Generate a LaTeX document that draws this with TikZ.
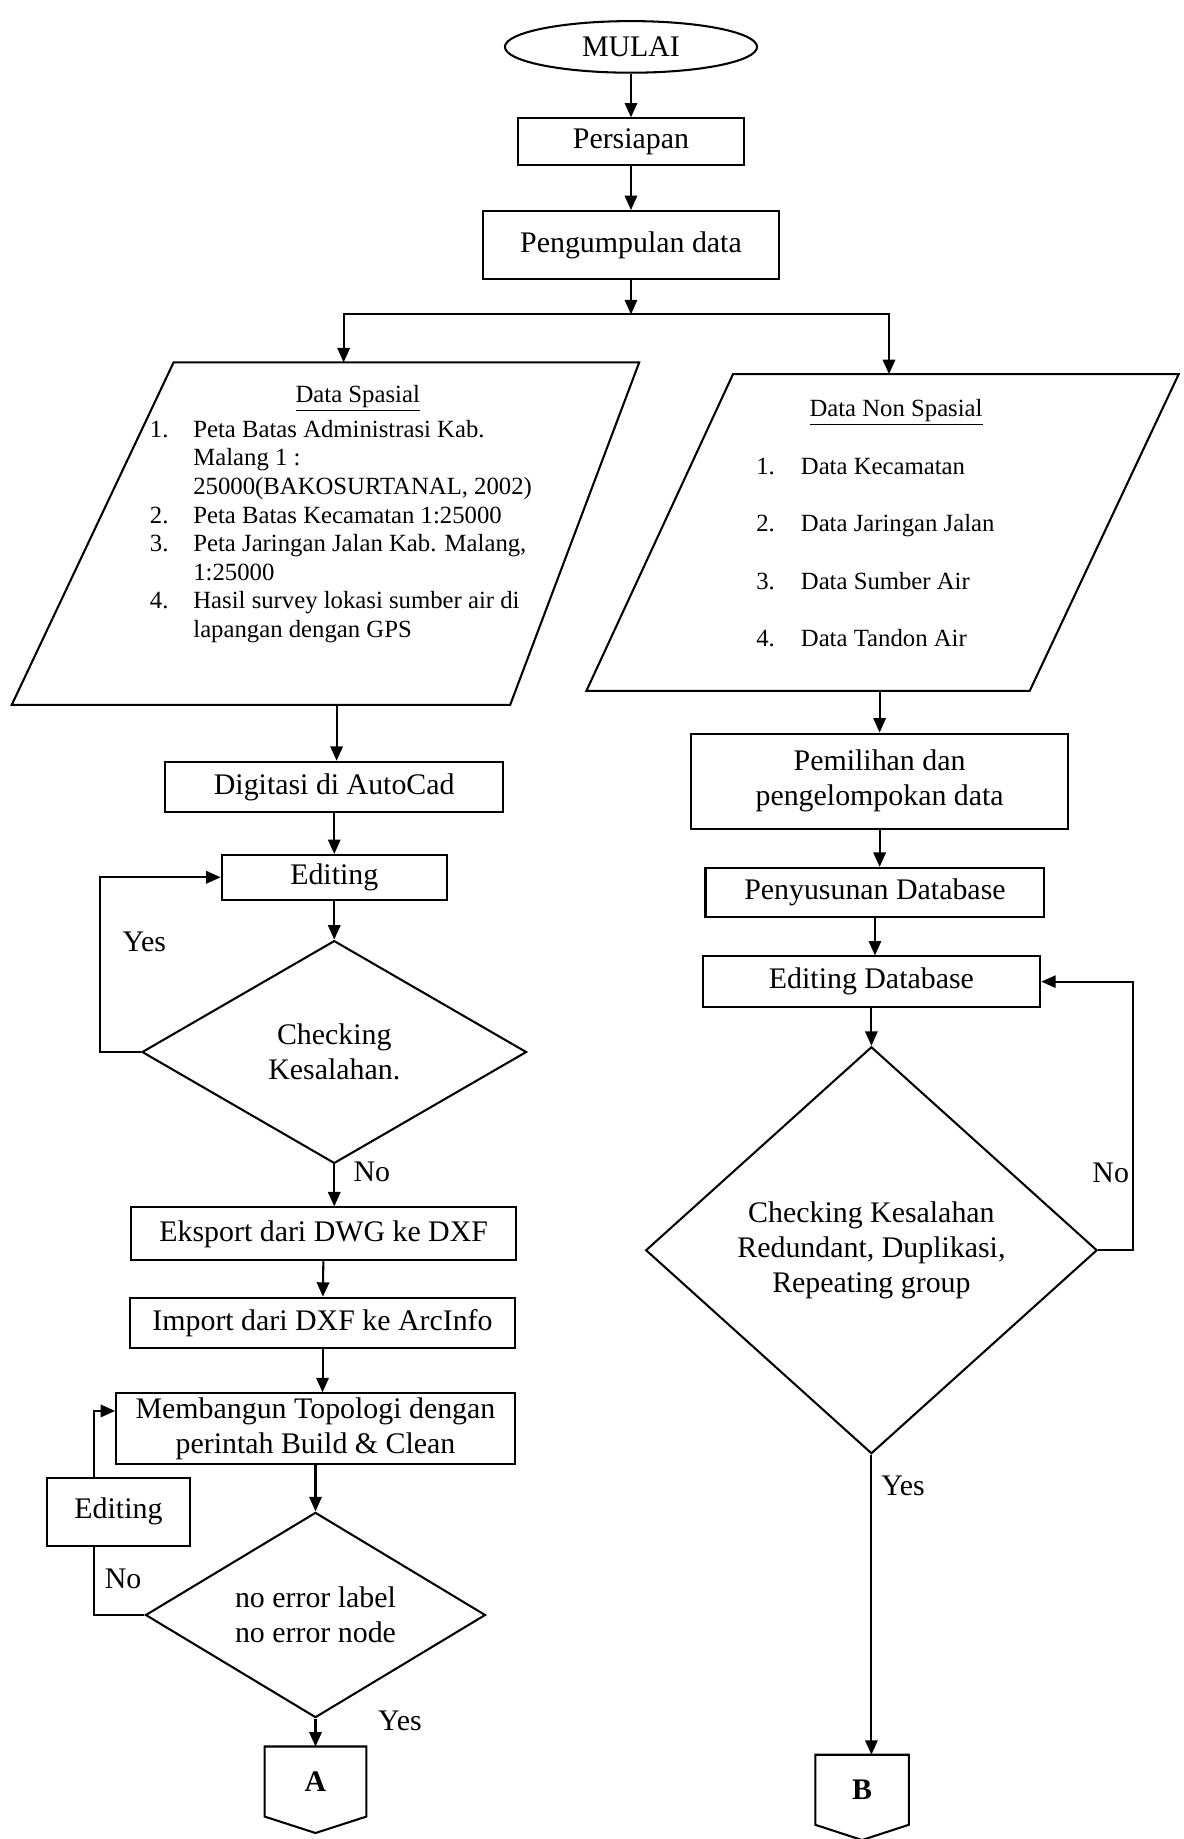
\documentclass[tikz,border=0pt]{standalone}
\usepackage{fontspec}
\setmainfont{Liberation Serif}
\usetikzlibrary{shapes.geometric,arrows.meta,calc}
\newcommand{\mainfs}{\fontsize{14.5}{17}\selectfont}
\newcommand{\listfs}{\fontsize{12}{14}\selectfont}

\begin{document}
\begin{tikzpicture}[
    x=0.02cm, y=-0.02cm,
    line width=1pt,
    flow/.style={-{Triangle[length=7pt,width=6pt]}},
    box/.style={draw, rectangle, align=center, inner sep=2pt, font=\mainfs},
    decision/.style={draw, diamond, align=center, inner sep=0pt, font=\mainfs},
    startstop/.style={draw, ellipse, inner sep=0pt, font=\mainfs},
    conn/.style={rectangle, inner sep=0pt, font=\mainfs\bfseries},
    lbl/.style={font=\mainfs},
    listtxt/.style={font=\listfs, anchor=west, inner sep=0pt,
      text height=1.6ex, text depth=0.4ex},
  ]
\useasboundingbox (0,0) rectangle (1009,1568);

% Top of the flow, down to the split into the two data branches.
\node[startstop, minimum width=4.3cm, minimum height=0.88cm] (mulai) at (538,40) {MULAI};
\node[box, minimum width=3.86cm, minimum height=0.8cm] (persiapan) at (538,121) {Persiapan};
\node[box, minimum width=5.04cm, minimum height=1.16cm] (kumpul) at (538,209) {Pengumpulan data};
\coordinate (cabang) at (538,268);

\draw[flow] (mulai) -- (persiapan);
\draw[flow] (persiapan) -- (kumpul);
\draw[flow] (kumpul) -- (cabang);

% Spatial data input (left parallelogram).
\coordinate (spTL) at (148,309);
\coordinate (spTR) at (545,309);
\coordinate (spBR) at (435,601);
\coordinate (spBL) at (10,601);
\coordinate (spIn) at (293,309);
\coordinate (spOut) at (287,601);
\draw (spTL) -- (spTR) -- (spBR) -- (spBL) -- cycle;
\node[font=\listfs, inner sep=0pt] (spHead) at (305,340) {\underline{Data Spasial}};
\foreach \n/\k in {1/0, 2/3, 3/4, 4/6}
  \node[listtxt] (spNo\n) at (127,368+24.4*\k) {\n.};
\foreach \t [count=\k from 0] in {Peta Batas Administrasi Kab., Malang 1 :,
    {25000(BAKOSURTANAL, 2002)}, Peta Batas Kecamatan 1:25000,
    {Peta Jaringan Jalan Kab. Malang,}, 1:25000,
    Hasil survey lokasi sumber air di, lapangan dengan GPS}
  \node[listtxt] (spIt\k) at (164,368+24.4*\k) {\t};

% Non spatial data input (right parallelogram).
\coordinate (nsTL) at (625,319);
\coordinate (nsTR) at (1005,319);
\coordinate (nsBR) at (878,589);
\coordinate (nsBL) at (500,589);
\coordinate (nspIn) at (758,319);
\coordinate (nspOut) at (750,589);
\draw (nsTL) -- (nsTR) -- (nsBR) -- (nsBL) -- cycle;
\node[font=\listfs, inner sep=0pt] (nsHead) at (764,352) {\underline{Data Non Spasial}};
\foreach \t [count=\k from 0] in {Data Kecamatan, Data Jaringan Jalan,
    Data Sumber Air, Data Tandon Air}
{
  \node[listtxt] (nsNo\k) at (644,400+48.7*\k) {\the\numexpr\k+1\relax.};
  \node[listtxt] (nsIt\k) at (682,400+48.7*\k) {\t};
}

\draw[flow] (cabang) -| (spIn);
\draw[flow] (cabang) -| (nspIn);

% Left branch: digitising and topology.
\node[box, minimum width=5.76cm, minimum height=0.86cm] (digitasi) at (285,671) {Digitasi di AutoCad};
\node[box, minimum width=3.84cm, minimum height=0.76cm] (editA) at (285,748) {Editing};
\node[decision, aspect=1.73, minimum width=6.56cm, minimum height=3.8cm] (cekA) at (285,897) {Checking\\Kesalahan.};
\node[box, minimum width=6.56cm, minimum height=0.9cm] (eksport) at (276,1052) {Eksport dari DWG ke DXF};
\node[box, minimum width=6.56cm, minimum height=0.86cm] (impor) at (275,1128) {Import dari DXF ke ArcInfo};
\node[box, minimum width=6.8cm, minimum height=1.2cm] (topologi) at (269,1218) {Membangun Topologi dengan\\perintah Build \& Clean};
\node[decision, aspect=1.66, minimum width=5.8cm, minimum height=3.5cm] (cekB) at (269,1377) {no error label\\no error node};
\node[box, minimum width=2.44cm, minimum height=1.16cm] (editB) at (101,1289) {Editing};
\node[conn, minimum width=1.7cm, minimum height=1.16cm] (konA) at (269,1519) {A};
\draw (konA.north west) -- (konA.north east) -- (konA.south east)
  -- ($(konA.south)+(0,14)$) -- (konA.south west) -- cycle;

\draw[flow] (spOut) -- (spOut |- digitasi.north);
\draw[flow] (digitasi) -- (editA);
\draw[flow] (editA) -- (cekA);
\draw[flow] (cekA.south) -- (cekA.south |- eksport.north);
\draw[flow] (eksport) -- (impor);
\draw[flow] (impor.south) -- (impor.south |- topologi.north);
\draw[flow] (topologi) -- (cekB);
\draw[flow] (cekB) -- (konA);
\draw[flow] (cekA.west) -- ++(-35,0) |- (editA.west);
\draw (cekB.west) -| ($(editB.south)+(-21,0)$);
\draw[flow] ($(editB.north)+(-21,0)$) |- ($(topologi.west)+(0,-15)$);

\node[lbl] (yesA) at (123,803) {Yes};
\node[lbl] (noA) at (317,999) {No};
\node[lbl] (noB) at (105,1346) {No};
\node[lbl] (yesB) at (341,1467) {Yes};

% Right branch: database building and checking.
\node[box, minimum width=6.42cm, minimum height=1.62cm] (pemilihan) at (750,666) {Pemilihan dan\\pengelompokan data};
\node[box, minimum width=5.78cm, minimum height=0.84cm] (penyusunan) at (746,761) {Penyusunan Database};
\node[box, minimum width=5.76cm, minimum height=0.86cm] (editdb) at (743,837) {Editing Database};
\node[decision, aspect=1.1, minimum width=7.7cm, minimum height=6.94cm] (cekC) at (743,1066) {Checking Kesalahan\\Redundant, Duplikasi,\\Repeating group};
\node[conn, minimum width=1.56cm, minimum height=1.16cm] (konB) at (735,1526) {B};
\draw (konB.north west) -- (konB.north east) -- (konB.south east)
  -- ($(konB.south)+(0,13)$) -- (konB.south west) -- cycle;

\draw[flow] (nspOut) -- (nspOut |- pemilihan.north);
\draw[flow] (pemilihan.south) -- (pemilihan.south |- penyusunan.north);
\draw[flow] (penyusunan.south) -- (penyusunan.south |- editdb.north);
\draw[flow] (editdb) -- (cekC);
\draw[flow] (cekC.south) -- (cekC.south |- konB.north);
\draw[flow] (cekC.east) -- ++(30,0) |- (editdb.east);

\node[lbl] (noC) at (947,1000) {No};
\node[lbl] (yesC) at (770,1267) {Yes};

\end{tikzpicture}
\end{document}
